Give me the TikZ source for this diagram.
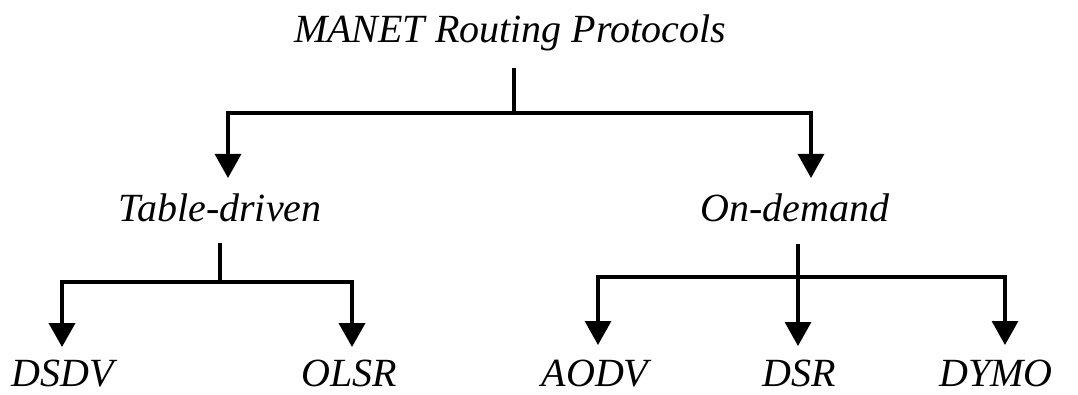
\documentclass[tikz,border=0pt]{standalone}
\usepackage{fontspec}
\setmainfont{Liberation Serif}
\usetikzlibrary{arrows.meta}
\tikzset{
  lbl/.style={inner sep=0pt, anchor=base, font=\fontsize{40}{48}\selectfont\itshape},
  ttl/.style={inner sep=0pt, anchor=base, font=\fontsize{40}{48}\selectfont\itshape},
  conn/.style={line width=3.2pt, line cap=butt, line join=miter},
  arr/.style={conn, -{Triangle[width=26pt,length=24pt]}},
}
\begin{document}
\begin{tikzpicture}[x=1pt,y=-1pt]
\useasboundingbox (0,0) rectangle (1078,395);
% texts
\node[ttl] (root) at (510,43) {MANET Routing Protocols};
\node[lbl] (td) at (220,222) {Table-driven};
\node[lbl] (od) at (795,222) {On-demand};
\node[lbl] (dsdv) at (63,386) {DSDV};
\node[lbl] (olsr) at (349,386) {OLSR};
\node[lbl] (aodv) at (595,386) {AODV};
\node[lbl] (dsr) at (799,386) {DSR};
\node[lbl] (dymo) at (996,386) {DYMO};
% junction coordinates
\coordinate (r0) at (514,68);
\coordinate (r1) at (514,113);
\coordinate (rl) at (228,113);
\coordinate (rr) at (811,113);
\coordinate (tdtip) at (228,178);
\coordinate (odtip) at (811,178);
\coordinate (t0) at (220,243);
\coordinate (t1) at (220,282);
\coordinate (tl) at (62,282);
\coordinate (tr) at (352,282);
\coordinate (tltip) at (62,347);
\coordinate (trtip) at (352,347);
\coordinate (o0) at (798,244);
\coordinate (o1) at (798,277);
\coordinate (ol) at (598,277);
\coordinate (or) at (1005,277);
\coordinate (oltip) at (598,345);
\coordinate (omtip) at (798,346);
\coordinate (ortip) at (1005,345);
% connectors
\draw[conn] (r0) -- (r1);
\draw[arr] (r1) -- (rl) -- (tdtip);
\draw[arr] (r1) -- (rr) -- (odtip);
\draw[conn] (t0) -- (t1);
\draw[arr, line width=4pt] (t1) -- (tl) -- (tltip);
\draw[arr, line width=4pt] (t1) -- (tr) -- (trtip);
\draw[arr] (o0) -- (omtip);
\draw[arr] (o1) -- (ol) -- (oltip);
\draw[arr] (o1) -- (or) -- (ortip);
\end{tikzpicture}
\end{document}
